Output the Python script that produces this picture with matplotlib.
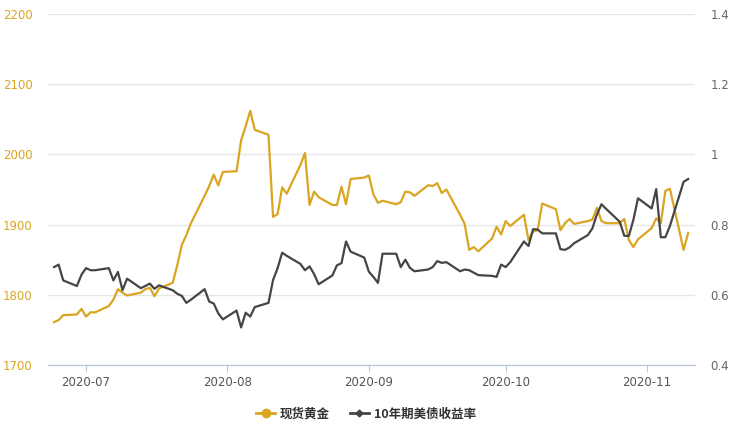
import matplotlib
matplotlib.use('Agg')
import matplotlib.pyplot as plt
import matplotlib.dates as mdates
import numpy as np
import pandas as pd

plt.rcParams['font.family'] = ['Noto Sans CJK SC', 'DejaVu Sans']

# trading days, 2020-06-24 .. 2020-11-10
dates = pd.bdate_range('2020-06-24', '2020-11-10')

gold = [
    # Jun
    1761, 1764, 1771, 1772, 1780,
    # Jul
    1769, 1775, 1775,
    1784, 1793, 1808, 1803, 1799,
    1803, 1808, 1810, 1798, 1809,
    1817, 1842, 1871, 1885, 1902,
    1941, 1955, 1971, 1956, 1975,
    # Aug
    1976, 2020, 2040, 2062, 2035,
    2028, 1911, 1915, 1953, 1944,
    1985, 2002, 1928, 1947, 1939,
    1928, 1928, 1954, 1929, 1965,
    1967,
    # Sep
    1970, 1943, 1931, 1934,
    1929, 1932, 1947, 1946, 1941,
    1956, 1955, 1959, 1945, 1950,
    1914, 1901, 1864, 1868, 1862,
    1880, 1897, 1886,
    # Oct
    1905, 1898,
    1914, 1878, 1890, 1892, 1930,
    1922, 1892, 1902, 1908, 1901,
    1905, 1907, 1924, 1905, 1902,
    1902, 1908, 1878, 1868, 1879,
    # Nov
    1895, 1909, 1902, 1948, 1951,
    1864, 1888,
]

yields = [
    # Jun
    0.679, 0.686, 0.641, 0.625, 0.657,
    # Jul
    0.676, 0.670, 0.670,
    0.676, 0.641, 0.665, 0.613, 0.646,
    0.619, 0.625, 0.632, 0.617, 0.627,
    0.613, 0.603, 0.597, 0.577, 0.586,
    0.616, 0.581, 0.575, 0.547, 0.530,
    # Aug
    0.555, 0.507, 0.549, 0.538, 0.565,
    0.577, 0.642, 0.676, 0.720, 0.711,
    0.688, 0.670, 0.681, 0.659, 0.630,
    0.655, 0.684, 0.690, 0.752, 0.723,
    0.706,
    # Sep
    0.666, 0.651, 0.634, 0.717,
    0.717, 0.679, 0.700, 0.677, 0.667,
    0.672, 0.679, 0.696, 0.691, 0.693,
    0.667, 0.672, 0.670, 0.663, 0.656,
    0.654, 0.651, 0.686,
    # Oct
    0.679, 0.693,
    0.752, 0.739, 0.787, 0.786, 0.775,
    0.775, 0.730, 0.728, 0.735, 0.747,
    0.770, 0.789, 0.829, 0.858, 0.845,
    0.808, 0.768, 0.768, 0.814, 0.875,
    # Nov
    0.846, 0.901, 0.764, 0.764, 0.796,
    0.922, 0.930,
]

labels = ['现货黄金', '10年期美债收益率']
left_ticks = [1700, 1800, 1900, 2000, 2100, 2200]
right_ticks = [0.4, 0.6, 0.8, 1.0, 1.2, 1.4]
right_labels = ['0.4', '0.6', '0.8', '1', '1.2', '1.4']
month_ticks = ['2020-07-01', '2020-08-01', '2020-09-01', '2020-10-01', '2020-11-01']

gold_c = '#DAA520'
dark_c = '#454545'

fig = plt.figure(figsize=(7.35, 4.25), dpi=100)
ax = fig.add_axes([48/735, 60/425, (695-48)/735, (365-14)/425])
ax2 = ax.twinx()

ax.plot(dates, gold, color=gold_c, lw=1.6, label=labels[0])
ax2.plot(dates, yields, color=dark_c, lw=1.6, label=labels[1])

ax.set_ylim(1700, 2200)
ax2.set_ylim(0.4, 1.4)
ax.set_xlim(pd.Timestamp('2020-06-22 16:00'), pd.Timestamp('2020-11-11 12:00'))

ax.set_yticks(left_ticks)
ax.set_yticklabels([str(t) for t in left_ticks], color=gold_c, fontsize=8.5, family='DejaVu Sans')
ax2.set_yticks(right_ticks)
ax2.set_yticklabels(right_labels, color='#666666', fontsize=8.5, family='DejaVu Sans')
ax.set_xticks(pd.to_datetime(month_ticks))
ax.xaxis.set_major_formatter(mdates.DateFormatter('%Y-%m'))
for t in ax.get_xticklabels():
    t.set_color('#555555')
    t.set_fontsize(8.5)
    t.set_family('DejaVu Sans')

ax.grid(axis='y', color='#e6e6e6', lw=1)
ax.set_axisbelow(True)
for a in (ax, ax2):
    for s in ['top', 'left', 'right']:
        a.spines[s].set_visible(False)
    a.spines['bottom'].set_color('#b8c8e0')
ax.tick_params(axis='y', length=0, pad=11)
ax2.tick_params(axis='y', length=0, pad=11)
ax.tick_params(axis='x', length=5, color='#b8c8e0', pad=3)

# legend handles with markers like the original
h1 = plt.Line2D([], [], color=gold_c, lw=2, marker='o', markersize=6)
h2 = plt.Line2D([], [], color=dark_c, lw=2, marker='D', markersize=3.5)
fig.legend([h1, h2], labels, loc='center', bbox_to_anchor=(366/735, 1 - 414/425),
           ncol=2, frameon=False, handlelength=1.5, handletextpad=0.4, columnspacing=1.6,
           prop={'family': ['Noto Sans CJK SC', 'DejaVu Sans'], 'size': 9, 'weight': 'bold'},
           labelcolor='#333333')

fig.savefig('out.png', dpi=100, facecolor='white')
